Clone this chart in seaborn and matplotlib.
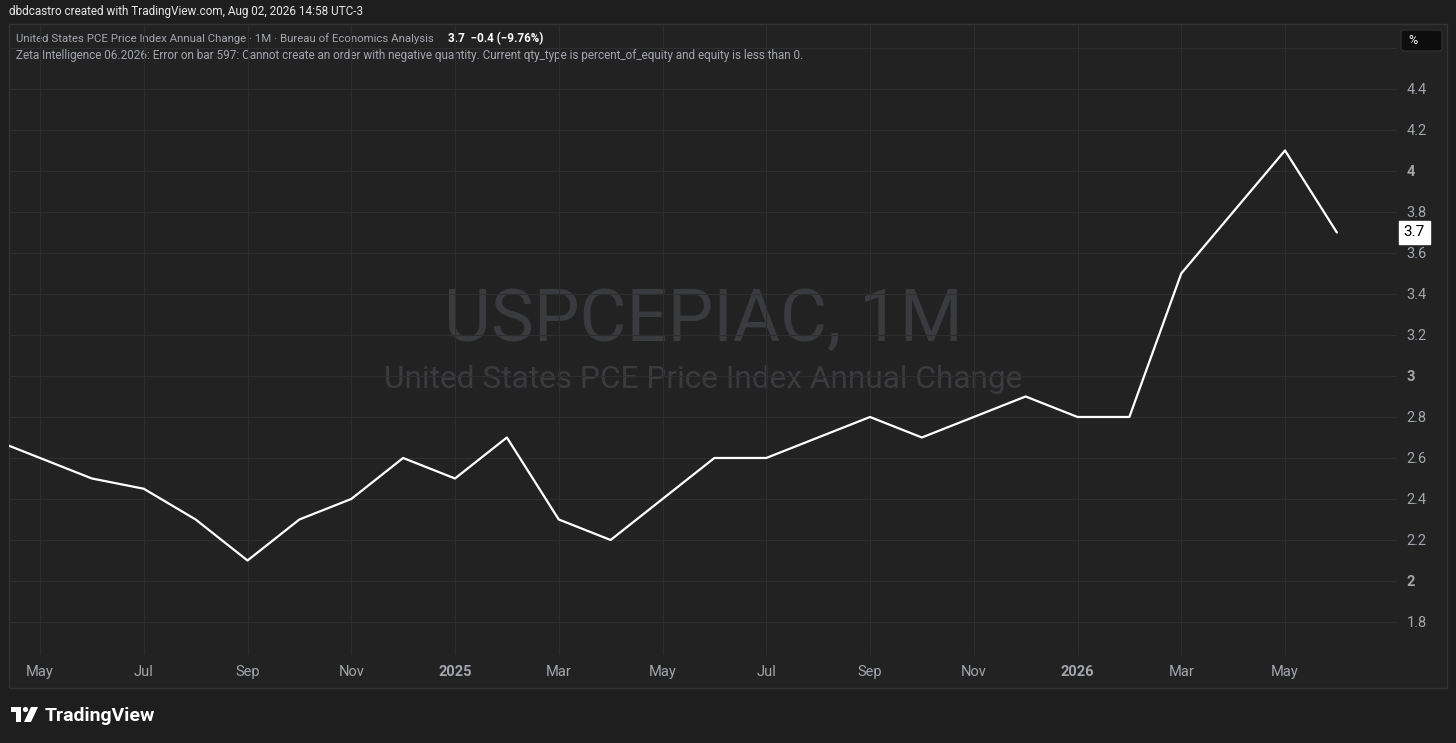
import matplotlib.pyplot as plt
import matplotlib.transforms as mtransforms
from matplotlib.patches import Rectangle, FancyBboxPatch, Polygon, Circle
import pandas as pd
import seaborn as sns

# Data (monthly, Apr 2024 - Jun 2026)
months = ["2024-04", "2024-05", "2024-06", "2024-07", "2024-08", "2024-09",
          "2024-10", "2024-11", "2024-12", "2025-01", "2025-02", "2025-03",
          "2025-04", "2025-05", "2025-06", "2025-07", "2025-08", "2025-09",
          "2025-10", "2025-11", "2025-12", "2026-01", "2026-02", "2026-03",
          "2026-04", "2026-05", "2026-06"]
pce = [2.7, 2.6, 2.5, 2.45, 2.3, 2.1, 2.3, 2.4, 2.6, 2.5, 2.7, 2.3,
       2.2, 2.4, 2.6, 2.6, 2.7, 2.8, 2.7, 2.8, 2.9, 2.8, 2.8, 3.5,
       3.8, 4.1, 3.7]
x_tick_months = ["2024-05", "2024-07", "2024-09", "2024-11", "2025-01", "2025-03",
                 "2025-05", "2025-07", "2025-09", "2025-11", "2026-01", "2026-03",
                 "2026-05"]
x_tick_labels = ["May", "Jul", "Sep", "Nov", "2025", "Mar", "May", "Jul", "Sep",
                 "Nov", "2026", "Mar", "May"]
y_ticks = [1.8, 2.0, 2.2, 2.4, 2.6, 2.8, 3.0, 3.2, 3.4, 3.6, 3.8, 4.0, 4.2, 4.4, 4.6]
y_tick_labels = ["1.8", "2", "2.2", "2.4", "2.6", "2.8", "3", "3.2", "3.4", "3.6",
                 "3.8", "4", "4.2", "4.4", ""]
last_value = "3.7"

df = pd.DataFrame({"month": months, "value": pce})
df["idx"] = range(len(df))
tick_pos = [months.index(m) for m in x_tick_months]

sns.set_theme(style="dark")
plt.rcParams["font.family"] = ["Roboto", "DejaVu Sans"]

W, H = 1456, 743
BG = "#1e1e1e"
PANE = "#222222"
GRID = "#2e2e2e"
TXT = "#a3a6ad"

fig = plt.figure(figsize=(W / 100, H / 100), dpi=100, facecolor=BG)

# background / decoration layer in pixel coordinates
bg = fig.add_axes([0, 0, 1, 1], zorder=0)
bg.set_xlim(0, W)
bg.set_ylim(H, 0)
bg.axis("off")
bg.add_patch(Rectangle((9, 24), 1438, 664, facecolor=PANE, edgecolor="#333333", lw=1))

# watermark
bg.text(703, 321, "USPCEPIAC, 1M", color="#3a3b3f", fontsize=52, ha="center", va="center")
bg.text(703, 380, "United States PCE Price Index Annual Change", color="#3a3b3f",
        fontsize=22.8, ha="center", va="center")

# main chart
ax = fig.add_axes([9 / W, 1 - 655 / H, (1397 - 9) / W, (655 - 25) / H], zorder=1)
ax.set_facecolor("none")
sns.lineplot(data=df, x="idx", y="value", color="white", lw=1.6, ax=ax)

px_per_month = (1285 - 40) / (tick_pos[-1] - tick_pos[0])
x0 = tick_pos[0] - (40 - 9) / px_per_month
x1 = tick_pos[-1] + (1397 - 1285) / px_per_month
ax.set_xlim(x0, x1)
ax.set_ylim(1.639, 4.712)

ax.set_xticks(tick_pos)
ax.set_xticklabels(x_tick_labels)
ax.set_yticks(y_ticks)
ax.set_yticklabels(y_tick_labels)
ax.yaxis.tick_right()
ax.tick_params(axis="both", length=0, labelsize=10.5, labelcolor=TXT)
ax.tick_params(axis="x", pad=7.5)
ax.tick_params(axis="y", pad=7)
for lab in ax.get_yticklabels():
    lab.set_horizontalalignment("left")
    if "." not in lab.get_text():
        lab.set_fontweight("bold")
for lab in ax.get_xticklabels():
    if lab.get_text().isdigit():
        lab.set_fontweight("bold")
ax.set_xlabel("")
ax.set_ylabel("")
ax.grid(True, color=GRID, lw=0.8)
for s in ax.spines.values():
    s.set_visible(False)

# last value label on price axis
trans = mtransforms.blended_transform_factory(ax.transAxes, ax.transData)
ax.text(1.0125, pce[-1], last_value, transform=trans, color="black", fontsize=11,
        ha="center", va="center", clip_on=False,
        bbox=dict(boxstyle="square,pad=0.3", fc="white", ec="white"))

# header texts
bg.text(9, 12, "dbdcastro created with TradingView.com, Aug 02, 2026 14:58 UTC-3",
        color="#e8e8e8", fontsize=8.5, ha="left", va="center")
bg.text(16, 39, "United States PCE Price Index Annual Change · 1M · Bureau of Economics Analysis",
        color=TXT, fontsize=8.2, ha="left", va="center")
bg.text(448, 39, "3.7  \u22120.4 (\u22129.76%)", color="white", fontsize=8.4,
        fontweight="bold", ha="left", va="center")
bg.text(16, 55, "Zeta Intelligence 06.2026: Error on bar 597: Cannot create an order with "
        "negative quantity. Current qty_type is percent_of_equity and equity is less than 0.",
        color=TXT, fontsize=8.5, ha="left", va="center")

# % box
bg.add_patch(FancyBboxPatch((1401, 30), 41, 21, boxstyle="round,pad=0,rounding_size=3",
                            fc="#0d0d0d", ec="#2e2e2e", lw=1))
bg.text(1413, 40.5, "%", color="white", fontsize=9, ha="center", va="center")

# TradingView logo
bg.add_patch(Polygon([(11, 707), (21, 707), (21, 722), (16, 722), (16, 712), (11, 712)],
                     closed=True, fc="white", ec="none"))
bg.add_patch(Circle((25.5, 709.5), 2.6, fc="white", ec="none"))
bg.add_patch(Polygon([(31, 707), (38, 707), (31, 722), (24, 722)],
                     closed=True, fc="white", ec="none"))
bg.text(45, 716, "TradingView", color="white", fontsize=14, fontweight="bold",
        ha="left", va="center")

fig.savefig("out.png", dpi=100, facecolor=BG)
